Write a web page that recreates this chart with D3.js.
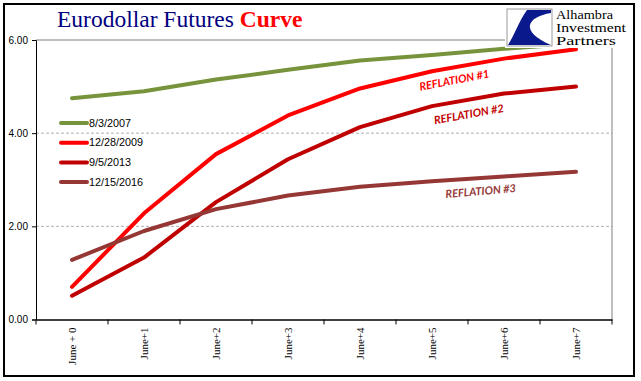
<!DOCTYPE html>
<html><head><meta charset="utf-8">
<script src="https://cdn.jsdelivr.net/npm/d3@7"></script>
<style>body{margin:0;background:#fff}svg{display:block}</style>
</head><body>
<script>
const categories = ["June + 0","June+1","June+2","June+3","June+4","June+5","June+6","June+7"];
const seriesNames = ["8/3/2007","12/28/2009","9/5/2013","12/15/2016"];
const s2007 = [4.75,4.90,5.15,5.36,5.56,5.68,5.81,5.92];
const s2009 = [0.70,2.28,3.55,4.38,4.96,5.33,5.60,5.80];
const s2013 = [0.51,1.33,2.52,3.44,4.13,4.58,4.85,5.00];
const s2016 = [1.28,1.90,2.37,2.66,2.85,2.97,3.07,3.17];
const yTicks = [0,2,4,6];
const colors = ["#77933C","#FF0000","#C00000","#953735"];
const annotations = ["REFLATION #1","REFLATION #2","REFLATION #3"];
const logoLines = ["Alhambra","Investment","Partners"];

const W=641,H=381;
const svg=d3.select("body").append("svg").attr("width",W).attr("height",H);
svg.append("rect").attr("x",4).attr("y",4).attr("width",630).attr("height",372).attr("fill","#fff").attr("stroke","#000").attr("stroke-width",2);

const pL=36,pR=612,pT=40,pB=319.5;
const x=d3.scaleBand().domain(categories).range([pL,pR]);
const y=d3.scaleLinear().domain([0,6]).range([pB,pT]);

// gridlines
svg.append("g").selectAll("line").data(yTicks.filter(d=>d>0)).join("line")
  .attr("x1",pL).attr("x2",pR).attr("y1",d=>y(d)).attr("y2",d=>y(d))
  .attr("stroke",d=>d===6?"#808080":"#b0b0b0").attr("stroke-width",1)
  .attr("stroke-dasharray",d=>d===6?null:"3,2");
// right border
svg.append("line").attr("x1",pR).attr("x2",pR).attr("y1",pT).attr("y2",pB).attr("stroke","#808080");

// y axis
const ya=svg.append("g").attr("transform",`translate(${pL},0)`).call(d3.axisLeft(y).tickValues(yTicks).tickFormat(d3.format(".2f")).tickSize(4).tickPadding(4));
ya.select(".domain").attr("stroke","#000");
ya.selectAll("text").attr("font-family","Liberation Sans, Arial").attr("font-size",10).attr("fill","#000");

// x axis
const xa=svg.append("g").attr("transform",`translate(0,${pB})`).call(d3.axisBottom(x).tickSize(0).tickPadding(0));
xa.select(".domain").attr("stroke","#000").attr("stroke-width",1.5);
xa.selectAll("text").attr("font-family","Liberation Serif, Times New Roman").attr("font-size",11).attr("fill","#000")
  .attr("text-anchor","end").attr("transform","rotate(-90)").attr("dy","0.35em").attr("dx",0).attr("x",-8).attr("y",0);
const bounds=categories.map(c=>x(c)).concat([pR]);
xa.selectAll(".bnd").data(bounds).join("line").attr("class","bnd").attr("x1",d=>d).attr("x2",d=>d).attr("y1",0).attr("y2",5).attr("stroke","#000");

// lines
const allSeries=[s2007,s2009,s2013,s2016];
const line=d3.line().x((d,i)=>x(categories[i])+x.bandwidth()/2).y(d=>y(d));
svg.append("g").selectAll("path").data(allSeries).join("path")
  .attr("d",line).attr("fill","none").attr("stroke",(d,i)=>colors[i]).attr("stroke-width",4).attr("stroke-linejoin","round").attr("stroke-linecap","round");

// legend
const lg=svg.append("g");
seriesNames.forEach((n,i)=>{
  const yy=123+i*19.7;
  lg.append("line").attr("x1",61).attr("x2",87).attr("y1",yy).attr("y2",yy).attr("stroke",colors[i]).attr("stroke-width",4).attr("stroke-linecap","round");
  lg.append("text").attr("x",89).attr("y",yy).attr("dy","0.35em").attr("font-family","Liberation Sans, Arial").attr("font-size",10.8).attr("fill","#000").text(n);
});

// annotations
const annPos=[[455,84,-11],[469.5,118,-10],[481,195,-5]];
annotations.forEach((t,i)=>{
  const [ax,ay,r]=annPos[i];
  svg.append("text").attr("transform",`translate(${ax},${ay}) rotate(${r})`).attr("text-anchor","middle")
    .attr("font-family","Lato, Open Sans, sans-serif").attr("font-weight","bold").attr("font-style","italic").attr("font-size",11)
    .attr("fill",colors[i+1]).text(t);
});

// title
const tt=svg.append("text").attr("x",57).attr("y",27).attr("font-family","Liberation Serif, Times New Roman").attr("font-size",23.5);
tt.append("tspan").attr("fill","#000080").text("Eurodollar Futures ");
tt.append("tspan").attr("fill","#FF0000").attr("font-weight","bold").text("Curve");

// logo
svg.append("rect").attr("x",505).attr("y",6).attr("width",126).attr("height",42).attr("fill","#fff");
const lgX=507,lgY=9,lgW=45,lgH=37;
svg.append("rect").attr("x",lgX).attr("y",lgY).attr("width",lgW).attr("height",lgH).attr("fill","#fff").attr("stroke","#999").attr("stroke-width",1);
svg.append("path").attr("d",`M${lgX+20},${lgY+1} L${lgX+lgW-1},${lgY+1} L${lgX+lgW-1},${lgY+4} C${lgX+20},${lgY+8} ${lgX+12},${lgY+22} ${lgX+lgW-1},${lgY+lgH-1} L${lgX+1},${lgY+lgH-1} C${lgX+8},${lgY+25} ${lgX+12},${lgY+12} ${lgX+20},${lgY+1} Z`).attr("fill","#0a1a8c");
const logoW=[57,70,60];
logoLines.forEach((t,i)=>{
  svg.append("text").attr("x",556).attr("y",19+i*12.8).attr("font-family","Liberation Serif, Times New Roman").attr("font-size",12.5)
    .attr("textLength",logoW[i]).attr("lengthAdjust","spacingAndGlyphs").attr("fill","#000").text(t);
});
</script>
</body></html>
